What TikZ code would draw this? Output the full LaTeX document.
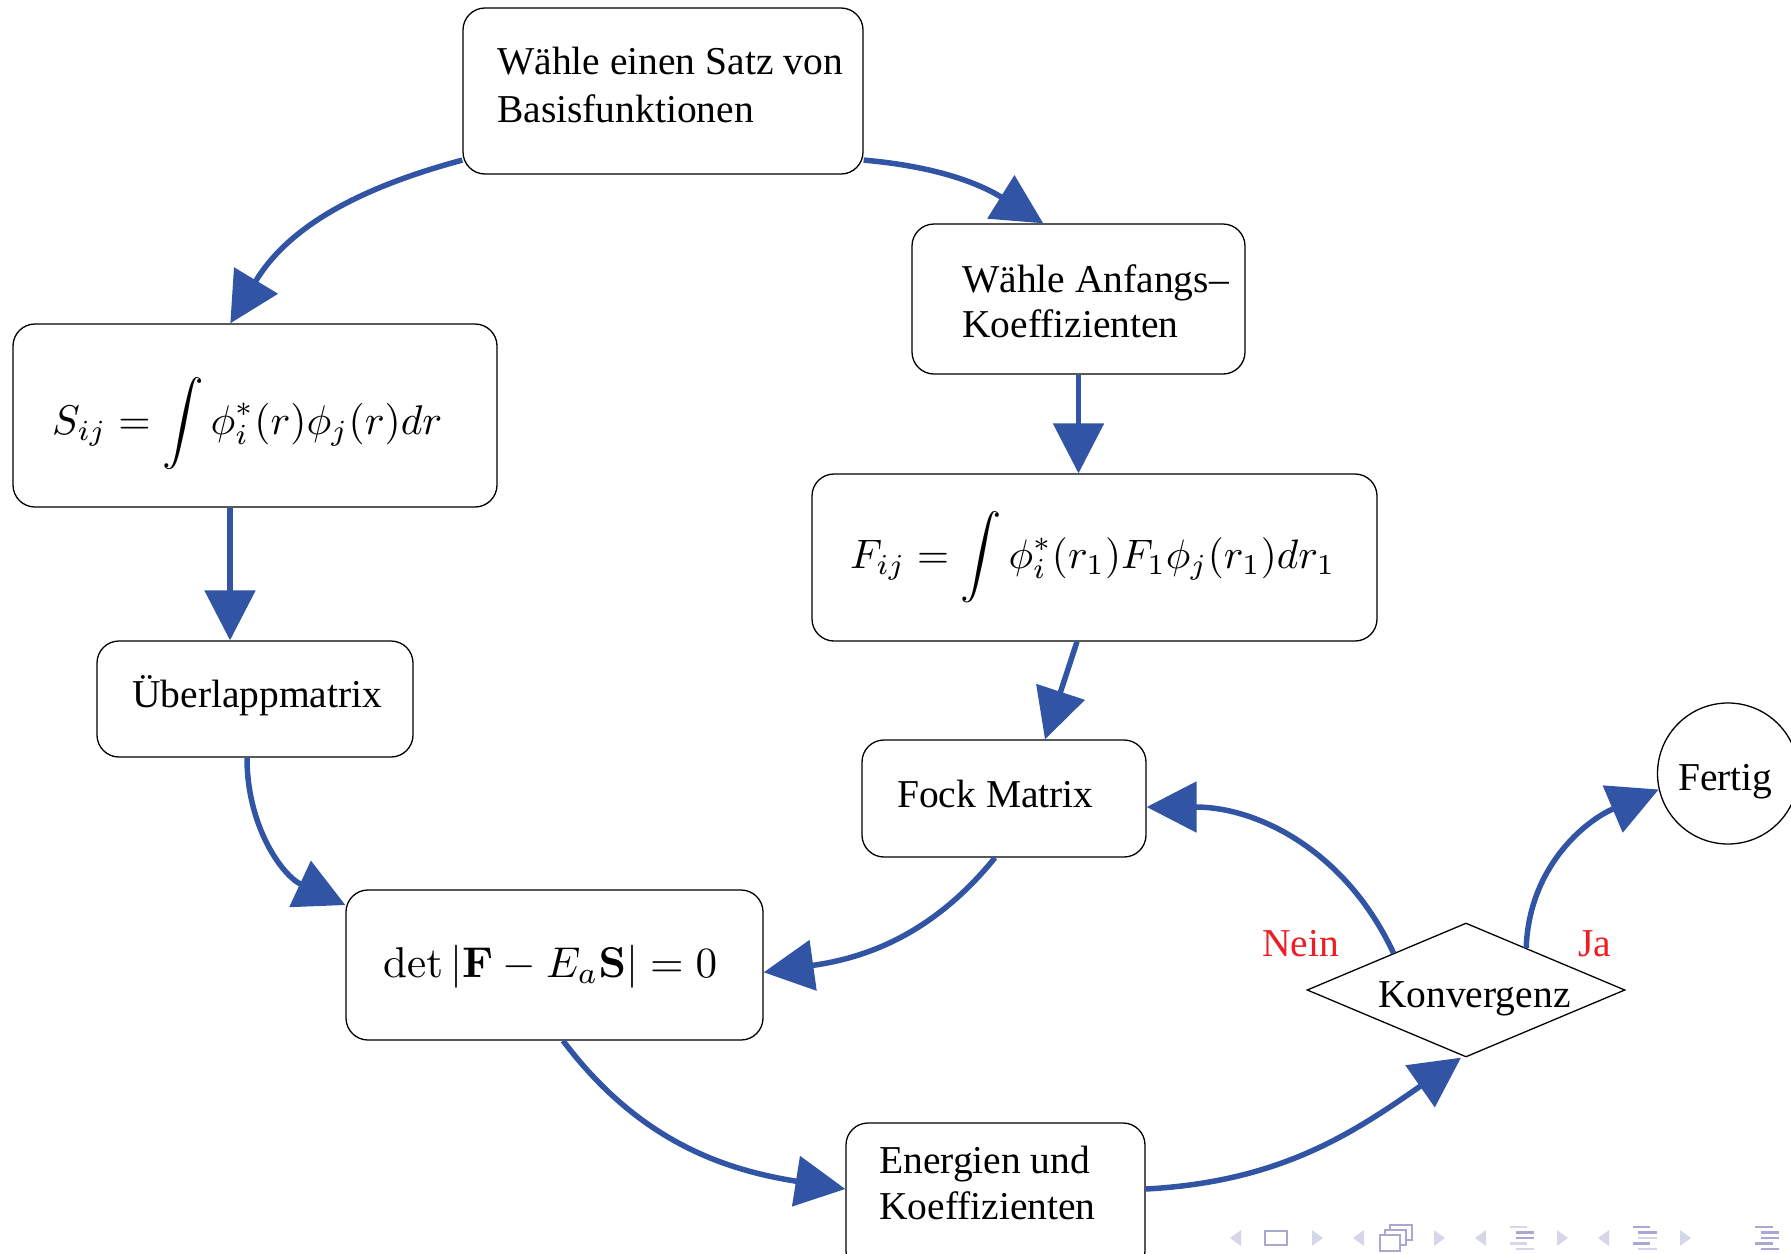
\documentclass[tikz,border=0pt]{standalone}
\usepackage[no-math]{fontspec}
\usepackage{exscale}
\setmainfont{Liberation Serif}
\usetikzlibrary{arrows.meta,shapes.geometric}
\definecolor{flowblue}{RGB}{50,84,164}
\definecolor{nored}{RGB}{235,30,36}
\definecolor{navdark}{RGB}{168,168,210}
\definecolor{navlight}{RGB}{214,214,235}
\begin{document}
\begin{tikzpicture}[x=1pt,y=-1pt,
  box/.style={draw=black, line width=1.3pt, rounded corners=22pt, inner sep=0pt},
  txt/.style={anchor=base west, inner sep=0pt, font=\fontsize{39.5}{47}\selectfont},
  mth/.style={anchor=base west, inner sep=0pt, font=\normalsize},
  lbl/.style={txt, text=nored},
  flow/.style={draw=flowblue, line width=5.5pt, -{Triangle[length=50pt,width=50pt]}},
  navtri/.style={fill=navlight},
  navbar/.style={line width=2.7pt}]
\useasboundingbox (0,0) rectangle (1791,1253);
\clip (0,0) rectangle (1791,1253);

% boxes
\node[box, minimum width=400pt, minimum height=166pt] (b1) at (663,91) {};
\node[txt] (t1a) at (497,74) {Wähle einen Satz von};
\node[txt] (t1b) at (497,122) {Basisfunktionen};

\node[box, minimum width=333pt, minimum height=150pt] (b2) at (1078.5,299) {};
\node[txt] (t2a) at (962,292) {Wähle Anfangs–};
\node[txt] (t2b) at (962,337) {Koeffizienten};

\node[box, minimum width=484pt, minimum height=183pt] (bS) at (255,415.5) {};
\node[mth] (tS) at (52,434) {\resizebox{390pt}{!}{$\displaystyle S_{ij} = \int \phi_i^*(r)\phi_j(r)dr$}};

\node[box, minimum width=565pt, minimum height=167pt] (bF) at (1094.5,557.5) {};
\node[mth] (tF) at (850,568) {\resizebox{485pt}{!}{$\displaystyle F_{ij} = \int \phi_i^*(r_1)F_1\phi_j(r_1)dr_1$}};

\node[box, minimum width=316pt, minimum height=116pt] (bU) at (255,699) {};
\node[txt] (tU) at (132,707) {Überlappmatrix};

\node[box, minimum width=284pt, minimum height=117pt] (bFock) at (1004,798.5) {};
\node[txt] (tFock) at (897,807) {Fock Matrix};

\node[box, minimum width=417pt, minimum height=150pt] (bdet) at (554.5,965) {};
\node[mth] (tdet) at (383,977) {\resizebox{334pt}{!}{$\det|\mathbf{F} - E_a\mathbf{S}| = 0$}};

\node[box, minimum width=299pt, minimum height=150pt] (bE) at (995.5,1198) {};
\node[txt] (tEa) at (879,1173) {Energien und};
\node[txt] (tEb) at (879,1219) {Koeffizienten};

\node[draw=black, line width=1.3pt, diamond, minimum width=318pt, minimum height=134pt, inner sep=0pt] (dia) at (1466,990) {};
\node[txt] (tdia) at (1378,1007) {Konvergenz};

\node[draw=black, line width=1.3pt, circle, minimum size=141pt, inner sep=0pt] (fert) at (1728,773.5) {};
\node[txt] (tfert) at (1678,790) {Fertig};

\node[lbl] (nein) at (1262,956) {Nein};
\node[lbl] (ja) at (1578,956) {Ja};

% connectors
\draw[flow] (b1.199) to[out=195,in=59] (bS.105);
\draw[flow] (b1.341) to[out=-5,in=148] (b2.115);
\draw[flow] (b2.south) -- (b2.south |- bF.north);
\draw[flow] ([xshift=-25pt]bS.south) -- ([xshift=-25pt]bU.north);
\draw[flow] ([xshift=-17.5pt]bF.south) -- ([xshift=41pt]bFock.north);
\draw[flow] ([xshift=-8pt]bU.south) to[out=270,in=155] (bdet.164);
\draw[flow] ([xshift=-9pt]bFock.south) to[out=231,in=8] (bdet.-2);
\draw[flow] ([xshift=8.5pt]bdet.south) to[out=-53,in=171] ([yshift=9pt]bE.west);
\draw[flow] ([yshift=9pt]bE.east) to[out=3,in=215] ([xshift=-5pt]dia.south);
\draw[flow] (dia.153) to[out=115,in=0] ([yshift=-8.5pt]bFock.east);
\draw[flow] (dia.35) to[out=88,in=203] (fert.193);

% navigation symbols
\foreach \x in {1230,1353,1475,1598}
  \fill[navtri] (\x,1238) -- (\x+11,1230) -- (\x+11,1246) -- cycle;
\foreach \x in {1312,1434,1557,1680}
  \fill[navtri] (\x+11,1238) -- (\x,1230) -- (\x,1246) -- cycle;
\draw[navdark, line width=2pt] (1265,1231) rectangle (1287,1245);
\draw[navdark, line width=1.6pt, fill=white] (1390,1225) rectangle (1412,1240);
\draw[navdark, line width=1.6pt, fill=white] (1385,1230) rectangle (1406,1245);
\draw[navdark, line width=1.6pt, fill=white] (1380,1235) rectangle (1400,1251);
% section icon
\draw[navbar, navlight] (1510,1227) -- (1527,1227);
\draw[navbar, navdark] (1516,1232.5) -- (1534,1232.5);
\draw[navbar, navdark] (1516,1238) -- (1534,1238);
\draw[navbar, navlight] (1510,1243.5) -- (1527,1243.5);
\draw[navbar, navlight] (1516,1249) -- (1534,1249);
% subsection icon
\draw[navbar, navdark] (1633,1227) -- (1650,1227);
\draw[navbar, navdark] (1638,1232.5) -- (1657,1232.5);
\draw[navbar, navlight] (1638,1238) -- (1657,1238);
\draw[navbar, navdark] (1633,1243.5) -- (1650,1243.5);
\draw[navbar, navlight] (1638,1249) -- (1657,1249);
% final icon
\draw[navbar, navdark] (1755,1227) -- (1773,1227);
\draw[navbar, navdark] (1761,1232.5) -- (1779,1232.5);
\draw[navbar, navdark] (1761,1238) -- (1779,1238);
\draw[navbar, navdark] (1755,1243.5) -- (1773,1243.5);
\draw[navbar, navdark] (1761,1249) -- (1779,1249);
\end{tikzpicture}
\end{document}
